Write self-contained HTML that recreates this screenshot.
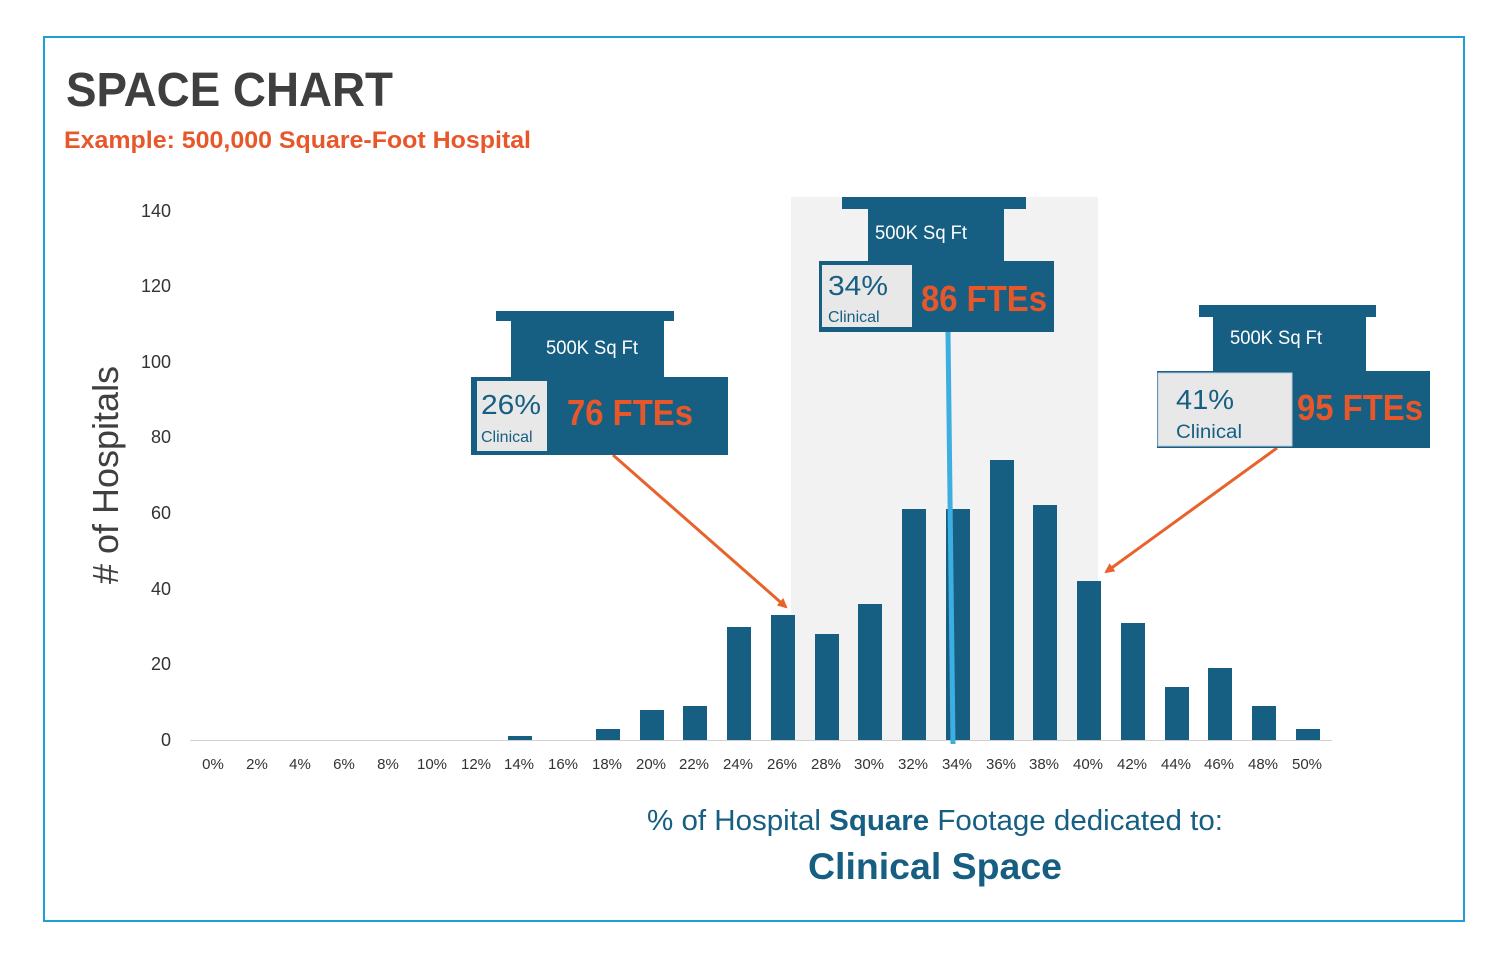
<!DOCTYPE html>
<html><head><meta charset="utf-8"><style>
body{margin:0;background:#fff;}
svg text{font-family:"Liberation Sans",sans-serif;}
</style></head><body>
<svg width="1509" height="965" xmlns="http://www.w3.org/2000/svg">
<defs><marker id="ah" markerWidth="10" markerHeight="10" refX="8" refY="5" orient="auto" markerUnits="userSpaceOnUse"><path d="M0,0 L10,5 L0,10 z" fill="#e8632b"/></marker></defs>
<rect x="44" y="37" width="1420" height="884" fill="none" stroke="#1da0d8" stroke-width="2"/>
<text x="66" y="106" font-size="48" font-weight="bold" fill="#3f3f3f" textLength="327" lengthAdjust="spacingAndGlyphs">SPACE CHART</text>
<text x="64" y="148" font-size="24" font-weight="bold" fill="#e8572a" textLength="467" lengthAdjust="spacingAndGlyphs">Example: 500,000 Square-Foot Hospital</text>
<rect x="791" y="197" width="307" height="543" fill="#f2f2f2"/>
<g font-size="18" fill="#333" text-anchor="end">
<text x="171" y="746">0</text><text x="171" y="670">20</text><text x="171" y="595">40</text><text x="171" y="519">60</text><text x="171" y="443">80</text><text x="171" y="368">100</text><text x="171" y="292">120</text><text x="171" y="217">140</text>
</g>
<text transform="translate(118,475) rotate(-90)" font-size="36" fill="#404040" text-anchor="middle"># of Hospitals</text>
<g fill="#165f82">
<rect x="508" y="736" width="24" height="4"/>
<rect x="596" y="729" width="24" height="11"/>
<rect x="640" y="710" width="24" height="30"/>
<rect x="683" y="706" width="24" height="34"/>
<rect x="727" y="627" width="24" height="113"/>
<rect x="771" y="615" width="24" height="125"/>
<rect x="815" y="634" width="24" height="106"/>
<rect x="858" y="604" width="24" height="136"/>
<rect x="902" y="509" width="24" height="231"/>
<rect x="946" y="509" width="24" height="231"/>
<rect x="990" y="460" width="24" height="280"/>
<rect x="1033" y="505" width="24" height="235"/>
<rect x="1077" y="581" width="24" height="159"/>
<rect x="1121" y="623" width="24" height="117"/>
<rect x="1165" y="687" width="24" height="53"/>
<rect x="1208" y="668" width="24" height="72"/>
<rect x="1252" y="706" width="24" height="34"/>
<rect x="1296" y="729" width="24" height="11"/>
</g>
<line x1="190" y1="740.5" x2="1332" y2="740.5" stroke="#d0d0d0" stroke-width="1"/>
<g font-size="15" fill="#333" text-anchor="middle">
<text x="213" y="769">0%</text><text x="257" y="769">2%</text><text x="300" y="769">4%</text><text x="344" y="769">6%</text><text x="388" y="769">8%</text><text x="432" y="769">10%</text><text x="476" y="769">12%</text><text x="519" y="769">14%</text><text x="563" y="769">16%</text><text x="607" y="769">18%</text><text x="651" y="769">20%</text><text x="694" y="769">22%</text><text x="738" y="769">24%</text><text x="782" y="769">26%</text><text x="826" y="769">28%</text><text x="869" y="769">30%</text><text x="913" y="769">32%</text><text x="957" y="769">34%</text><text x="1001" y="769">36%</text><text x="1044" y="769">38%</text><text x="1088" y="769">40%</text><text x="1132" y="769">42%</text><text x="1176" y="769">44%</text><text x="1219" y="769">46%</text><text x="1263" y="769">48%</text><text x="1307" y="769">50%</text>
</g>
<line x1="948" y1="332" x2="953" y2="744" stroke="#3daee0" stroke-width="5"/>
<line x1="613" y1="455" x2="786" y2="607" stroke="#e8632b" stroke-width="3" marker-end="url(#ah)"/>
<line x1="1277" y1="448" x2="1106" y2="572" stroke="#e8632b" stroke-width="3" marker-end="url(#ah)"/>
<g fill="#165f82">
<rect x="496" y="311" width="178" height="10"/><rect x="511" y="321" width="153" height="56"/><rect x="471" y="377" width="257" height="78"/>
<rect x="842" y="197" width="184" height="12"/><rect x="868" y="209" width="136" height="52"/><rect x="819" y="261" width="235" height="71"/>
<rect x="1199" y="305" width="177" height="12"/><rect x="1213" y="317" width="153" height="54"/><rect x="1157" y="371" width="273" height="77"/>
</g>
<rect x="477" y="381" width="70" height="70" fill="#e8e8e8"/>
<rect x="822" y="265" width="90" height="62" fill="#e8e8e8"/>
<rect x="1158" y="373" width="134" height="73" fill="#e8e8e8" stroke="#bcd" stroke-width="1"/>
<g fill="#fff" font-size="19" text-anchor="middle">
<text x="592" y="354" textLength="92" lengthAdjust="spacingAndGlyphs">500K Sq Ft</text><text x="921" y="239" textLength="92" lengthAdjust="spacingAndGlyphs">500K Sq Ft</text><text x="1276" y="344" textLength="92" lengthAdjust="spacingAndGlyphs">500K Sq Ft</text>
</g>
<g fill="#165f82">
<text x="481" y="414" font-size="28" textLength="60" lengthAdjust="spacingAndGlyphs">26%</text><text x="481" y="442" font-size="16">Clinical</text>
<text x="828" y="295" font-size="28" textLength="60" lengthAdjust="spacingAndGlyphs">34%</text><text x="828" y="322" font-size="16">Clinical</text>
<text x="1176" y="409" font-size="28" textLength="58" lengthAdjust="spacingAndGlyphs">41%</text><text x="1176" y="438" font-size="19" textLength="66" lengthAdjust="spacingAndGlyphs">Clinical</text>
</g>
<g fill="#e8572a" font-weight="bold" font-size="36">
<text x="567" y="425" textLength="126" lengthAdjust="spacingAndGlyphs">76 FTEs</text><text x="921" y="311" textLength="126" lengthAdjust="spacingAndGlyphs">86 FTEs</text><text x="1297" y="420" textLength="126" lengthAdjust="spacingAndGlyphs">95 FTEs</text>
</g>
<text x="935" y="830" font-size="29" fill="#165f82" text-anchor="middle" textLength="576" lengthAdjust="spacingAndGlyphs">% of Hospital <tspan font-weight="bold">Square</tspan> Footage dedicated to:</text>
<text x="935" y="879" font-size="37" font-weight="bold" fill="#165f82" text-anchor="middle" textLength="254" lengthAdjust="spacingAndGlyphs">Clinical Space</text>
</svg>
</body></html>
